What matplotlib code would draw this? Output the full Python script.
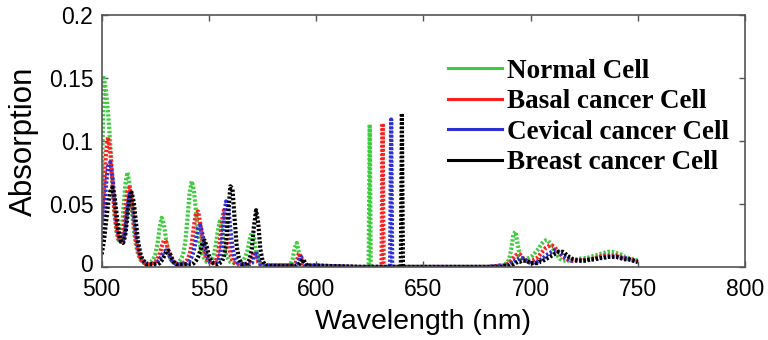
import matplotlib
matplotlib.use("Agg")
import matplotlib.pyplot as plt
from matplotlib.lines import Line2D
from matplotlib.transforms import ScaledTranslation

# wavelength grids (nm)
wl_a = list(range(500, 600))
wl_b = [600, 620, 624.5, 625, 625.5, 630.5, 631, 631.5,
        634.5, 635, 635.5, 639.5, 640, 640.5, 660, 680]
wl_c = list(range(686, 721)) + list(range(722, 751, 2))

# absorption, 500-599 nm
normal_a = [0.060, 0.150, 0.140, 0.122, 0.098, 0.066, 0.040, 0.027, 0.021, 0.026,
            0.042, 0.065, 0.075, 0.066, 0.046, 0.029, 0.017, 0.010, 0.006, 0.004,
            0.003, 0.003, 0.003, 0.004, 0.006, 0.010, 0.018, 0.031, 0.039, 0.034,
            0.022, 0.012, 0.007, 0.004, 0.003, 0.003, 0.004, 0.006, 0.010, 0.020,
            0.038, 0.059, 0.068, 0.061, 0.044, 0.027, 0.016, 0.009, 0.006, 0.004,
            0.004, 0.005, 0.008, 0.015, 0.027, 0.036, 0.030, 0.018, 0.010, 0.006,
            0.004, 0.003, 0.003, 0.003, 0.003, 0.004, 0.005, 0.008, 0.013, 0.022,
            0.027, 0.024, 0.012, 0.006, 0.003, 0.002, 0.001, 0.001, 0.001, 0.001,
            0.001, 0.001, 0.001, 0.001, 0.001, 0.001, 0.001, 0.001, 0.002, 0.006,
            0.015, 0.019, 0.011, 0.004, 0.002, 0.001, 0.001, 0.001, 0.001, 0.001]
basal_a = [0.035, 0.060, 0.090, 0.103, 0.092, 0.068, 0.044, 0.029, 0.021, 0.020,
           0.026, 0.043, 0.060, 0.063, 0.052, 0.035, 0.021, 0.012, 0.007, 0.004,
           0.003, 0.002, 0.002, 0.002, 0.003, 0.004, 0.006, 0.010, 0.016, 0.021,
           0.020, 0.014, 0.008, 0.005, 0.003, 0.002, 0.002, 0.002, 0.003, 0.004,
           0.006, 0.010, 0.018, 0.032, 0.043, 0.044, 0.034, 0.020, 0.011, 0.006,
           0.004, 0.003, 0.003, 0.004, 0.008, 0.018, 0.035, 0.045, 0.036, 0.020,
           0.010, 0.005, 0.003, 0.002, 0.002, 0.002, 0.002, 0.002, 0.003, 0.004,
           0.007, 0.012, 0.009, 0.004, 0.002, 0.001, 0.001, 0.001, 0.001, 0.001,
           0.001, 0.001, 0.001, 0.001, 0.001, 0.001, 0.001, 0.001, 0.001, 0.001,
           0.002, 0.005, 0.011, 0.007, 0.002, 0.001, 0.001, 0.001, 0.001, 0.001]
cervical_a = [0.020, 0.040, 0.065, 0.080, 0.083, 0.072, 0.052, 0.034, 0.024, 0.020,
              0.021, 0.030, 0.047, 0.058, 0.056, 0.041, 0.026, 0.015, 0.008, 0.005,
              0.003, 0.002, 0.002, 0.002, 0.002, 0.003, 0.004, 0.006, 0.009, 0.012,
              0.013, 0.011, 0.007, 0.004, 0.003, 0.002, 0.002, 0.002, 0.002, 0.002,
              0.003, 0.005, 0.008, 0.013, 0.022, 0.031, 0.033, 0.026, 0.016, 0.009,
              0.005, 0.003, 0.003, 0.003, 0.004, 0.008, 0.018, 0.038, 0.052, 0.048,
              0.030, 0.015, 0.007, 0.004, 0.002, 0.002, 0.002, 0.002, 0.002, 0.002,
              0.003, 0.008, 0.012, 0.007, 0.002, 0.001, 0.001, 0.001, 0.001, 0.001,
              0.001, 0.001, 0.001, 0.001, 0.001, 0.001, 0.001, 0.001, 0.001, 0.001,
              0.001, 0.002, 0.005, 0.008, 0.004, 0.001, 0.001, 0.001, 0.001, 0.001]
breast_a = [0.010, 0.020, 0.035, 0.050, 0.060, 0.063, 0.056, 0.041, 0.028, 0.020,
            0.019, 0.025, 0.040, 0.055, 0.059, 0.051, 0.035, 0.020, 0.011, 0.006,
            0.004, 0.002, 0.002, 0.002, 0.002, 0.002, 0.002, 0.003, 0.005, 0.008,
            0.012, 0.013, 0.010, 0.006, 0.003, 0.002, 0.002, 0.002, 0.002, 0.002,
            0.002, 0.002, 0.002, 0.003, 0.005, 0.008, 0.013, 0.019, 0.021, 0.016,
            0.009, 0.005, 0.003, 0.002, 0.002, 0.003, 0.004, 0.008, 0.018, 0.042,
            0.064, 0.062, 0.038, 0.016, 0.007, 0.003, 0.002, 0.002, 0.003, 0.006,
            0.014, 0.032, 0.045, 0.035, 0.014, 0.005, 0.002, 0.001, 0.001, 0.001,
            0.001, 0.001, 0.001, 0.001, 0.001, 0.001, 0.001, 0.001, 0.001, 0.001,
            0.001, 0.001, 0.002, 0.004, 0.006, 0.003, 0.001, 0.001, 0.001, 0.001]

# absorption, 600-680 nm (narrow lines)
normal_b = [0.001, 0, 0, 0.113, 0, 0, 0, 0, 0, 0, 0, 0, 0, 0, 0, 0]
basal_b = [0.001, 0, 0, 0, 0, 0, 0.114, 0, 0, 0, 0, 0, 0, 0, 0, 0]
cervical_b = [0.001, 0, 0, 0, 0, 0, 0, 0, 0, 0.117, 0, 0, 0, 0, 0, 0]
breast_b = [0.001, 0, 0, 0, 0, 0, 0, 0, 0, 0, 0, 0, 0.122, 0, 0, 0]

# absorption, 686-750 nm
normal_c = [0.001, 0.001, 0.002, 0.003, 0.006, 0.014, 0.026, 0.028, 0.018, 0.009,
            0.006, 0.005, 0.006, 0.007, 0.008, 0.009, 0.011, 0.013, 0.015, 0.018,
            0.020, 0.021, 0.021, 0.019, 0.016, 0.013, 0.010, 0.008, 0.006, 0.005,
            0.005, 0.005, 0.005, 0.006, 0.006,
            0.006, 0.007, 0.007, 0.008, 0.009, 0.010, 0.011, 0.012, 0.012, 0.011,
            0.010, 0.008, 0.007, 0.006, 0.005]
basal_c = [0.001, 0.001, 0.001, 0.002, 0.003, 0.005, 0.007, 0.009, 0.010, 0.010,
           0.008, 0.006, 0.005, 0.004, 0.004, 0.005, 0.006, 0.007, 0.009, 0.011,
           0.013, 0.015, 0.016, 0.017, 0.017, 0.016, 0.014, 0.012, 0.010, 0.008,
           0.007, 0.006, 0.005, 0.005, 0.005,
           0.005, 0.005, 0.006, 0.006, 0.007, 0.008, 0.009, 0.009, 0.009, 0.009,
           0.008, 0.007, 0.006, 0.005, 0.004]
cervical_c = [0.001, 0.001, 0.001, 0.001, 0.002, 0.003, 0.004, 0.005, 0.006, 0.007,
              0.007, 0.006, 0.005, 0.004, 0.003, 0.003, 0.004, 0.004, 0.005, 0.006,
              0.007, 0.009, 0.010, 0.011, 0.012, 0.013, 0.013, 0.012, 0.011, 0.009,
              0.008, 0.007, 0.006, 0.005, 0.005,
              0.005, 0.005, 0.005, 0.006, 0.006, 0.007, 0.008, 0.008, 0.008, 0.008,
              0.007, 0.007, 0.006, 0.005, 0.004]
breast_c = [0.000, 0.000, 0.001, 0.001, 0.001, 0.002, 0.002, 0.003, 0.004, 0.004,
            0.005, 0.005, 0.005, 0.004, 0.003, 0.003, 0.003, 0.003, 0.004, 0.004,
            0.005, 0.006, 0.007, 0.008, 0.009, 0.010, 0.011, 0.012, 0.012, 0.012,
            0.011, 0.009, 0.008, 0.007, 0.006,
            0.005, 0.005, 0.005, 0.006, 0.006, 0.007, 0.007, 0.008, 0.008, 0.008,
            0.007, 0.006, 0.006, 0.005, 0.004]

labels = ["Normal Cell", "Basal cancer Cell", "Cevical cancer Cell", "Breast cancer Cell"]
colors = ["#3dcc3d", "#ff1f1f", "#2f2fd6", "#000000"]
x_ticks = [500, 550, 600, 650, 700, 750, 800]
y_ticks = [0, 0.05, 0.1, 0.15, 0.2]
y_tick_labels = ["0", "0.05", "0.1", "0.15", "0.2"]

wavelength = wl_a + wl_b + wl_c
series = [normal_a + normal_b + normal_c,
          basal_a + basal_b + basal_c,
          cervical_a + cervical_b + cervical_c,
          breast_a + breast_b + breast_c]

plt.rcParams["font.family"] = ["Liberation Sans", "DejaVu Sans"]

fig = plt.figure(figsize=(7.68, 3.4), dpi=100)
ax = fig.add_axes([0.1324, 0.215, 0.8376, 0.741])

for y, c in zip(series, colors):
    ax.plot(wavelength, y, color=c, lw=3.0, linestyle=(0, (0.55, 0.45)),
            dash_capstyle="butt", solid_joinstyle="miter")

ax.set_xlim(500, 800)
ax.set_ylim(0, 0.2)
ax.set_xticks(x_ticks)
ax.set_yticks(y_ticks, y_tick_labels)
ax.tick_params(direction="in", top=True, right=True, length=4.5, width=1,
               color="#555555", labelsize=16.5)
ax.tick_params(axis="x", pad=8)
ax.tick_params(axis="y", pad=6)
for s in ax.spines.values():
    s.set_color("#555555")
    s.set_linewidth(1.2)

# lift the "0" label a little so it clears "500", as in the original
zero_lbl = ax.get_yticklabels()[0]
zero_lbl.set_transform(zero_lbl.get_transform() +
                       ScaledTranslation(0, 3 / 72, fig.dpi_scale_trans))

ax.set_xlabel("Wavelength (nm)", fontsize=20.5, labelpad=6)
ax.set_ylabel("Absorption", fontsize=22.5, labelpad=7)

handles = [Line2D([], [], color=c, lw=2.2) for c in colors]
ax.legend(handles, labels, loc="upper left", bbox_to_anchor=(0.517, 0.88),
          frameon=False, borderpad=0, labelspacing=0.2, handlelength=2.0,
          handletextpad=0.2,
          prop={"family": ["Liberation Serif", "DejaVu Serif"], "weight": "bold", "size": 19.5})

fig.savefig("out.png", dpi=100)
